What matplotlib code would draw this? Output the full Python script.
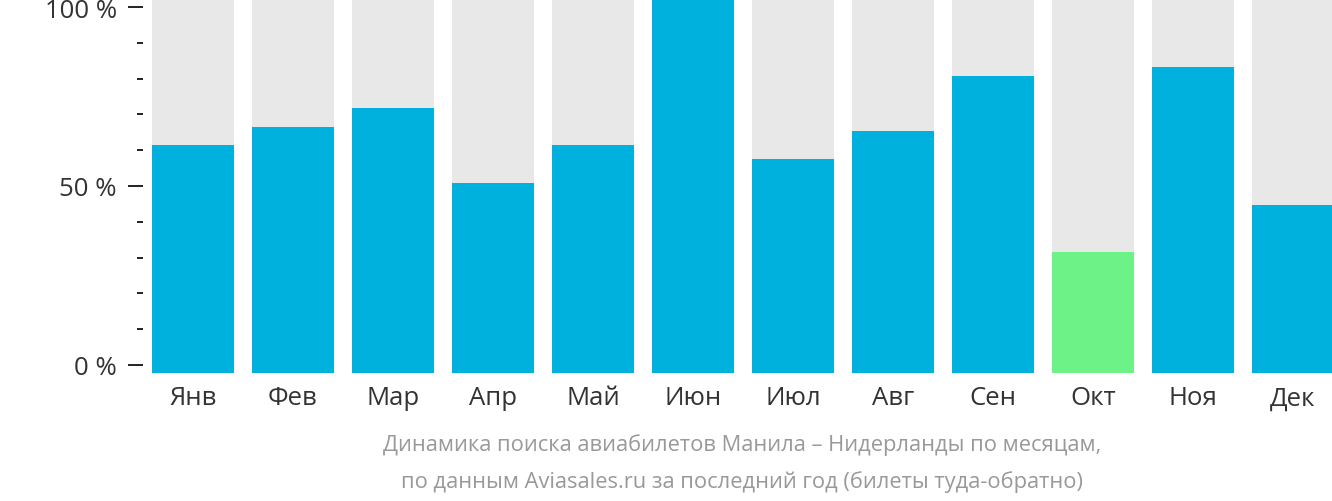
import matplotlib.pyplot as plt
from matplotlib.ticker import MultipleLocator, FuncFormatter

months = ['Янв', 'Фев', 'Мар', 'Апр', 'Май', 'Июн', 'Июл', 'Авг', 'Сен', 'Окт', 'Ноя', 'Дек']
values = [60.9, 65.7, 70.8, 50.9, 60.9, 100, 57.1, 64.6, 79.4, 32.4, 81.8, 44.8]
colors = ['#00b1dd'] * 9 + ['#6cf287'] + ['#00b1dd'] * 2
caption = ('Динамика поиска авиабилетов Манила – Нидерланды по месяцам,\n'
           'по данным Aviasales.ru за последний год (билеты туда-обратно)')

plt.rcParams['font.family'] = ['Open Sans', 'DejaVu Sans']

fig = plt.figure(figsize=(13.32, 5.02), dpi=100)
ax = fig.add_axes([152 / 1332, 128 / 502, 1180 / 1332, 374 / 502])

x = list(range(len(months)))
ax.bar(x, [100] * len(months), width=0.82, color='#e8e8e8')
ax.bar(x, values, width=0.82, color=colors)
ax.set_xlim(-0.41, 11.39)
ax.set_ylim(0, 100)
ax.set_xticks(x)
ax.set_xticklabels(months, fontsize=18.5, color='#333333')
ax.tick_params(axis='x', length=0, pad=9)
ax.get_yaxis().set_visible(False)
for s in ax.spines.values():
    s.set_visible(False)

# percent scale drawn beside the bars
ax2 = ax.twinx()
ax2.set_ylim(-2.24, 102.24)
ax2.yaxis.tick_left()
ax2.yaxis.set_major_locator(MultipleLocator(50))
ax2.yaxis.set_minor_locator(MultipleLocator(10))
ax2.yaxis.set_major_formatter(FuncFormatter(lambda v, p: '%d %%' % v))
ax2.tick_params(axis='y', which='major', length=10.8, width=1.4, color='#222222',
                labelsize=18.5, labelcolor='#333333', pad=8)
ax2.tick_params(axis='y', which='minor', length=4.3, width=1.4, color='#222222')
for s in ax2.spines.values():
    s.set_visible(False)
ax2.spines['left'].set_position(('outward', 6.5))

fig.text(742 / 1332, 1 - 463.5 / 502, caption, ha='center', va='center',
         fontsize=15.75, color='#999999', linespacing=1.93)

fig.savefig('out.png', dpi=100)
